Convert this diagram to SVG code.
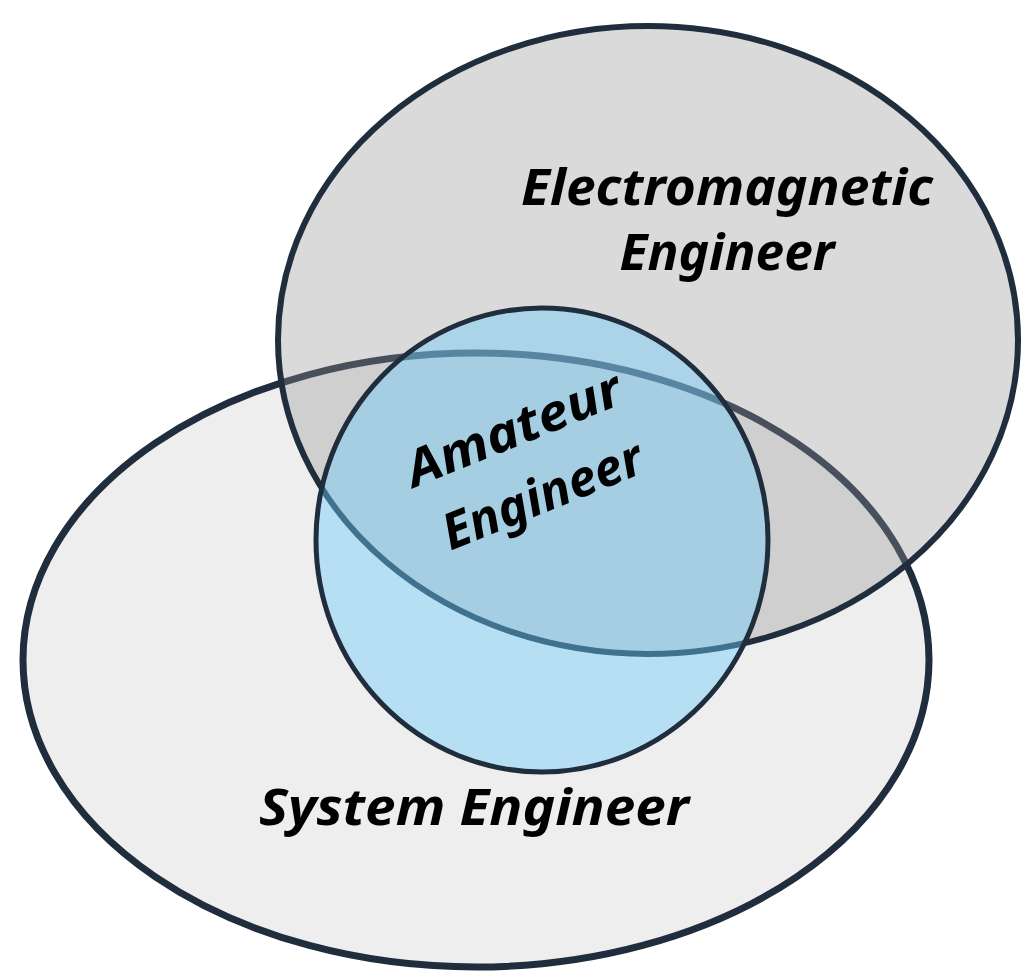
<svg xmlns="http://www.w3.org/2000/svg" width="1021" height="974" viewBox="0 0 1021 974">
<style>
.lbl{font-family:"Noto Sans","DejaVu Sans",sans-serif;font-weight:bold;font-style:italic;font-size:50px;fill:#000;text-anchor:middle}
.sys{fill:#eeeeee;stroke:#1f2d3d;stroke-width:7}
.em{fill:rgba(150,150,150,0.35);stroke:#1f2d3d;stroke-width:6}
.am{fill:rgba(110,205,252,0.43);stroke:#1f2d3d;stroke-width:5}
</style>
<rect width="1021" height="974" fill="#ffffff"/>
<g id="system-engineer">
<ellipse class="sys" cx="476" cy="660" rx="453" ry="307"/>
</g>
<g id="electromagnetic-engineer">
<ellipse class="em" cx="648" cy="340" rx="370" ry="314"/>
</g>
<g id="amateur-engineer">
<ellipse class="am" cx="542" cy="540" rx="226" ry="232"/>
</g>
<g id="labels">
<text class="lbl" x="727" y="205" textLength="412" lengthAdjust="spacingAndGlyphs">Electromagnetic</text>
<text class="lbl" x="727" y="270" textLength="215" lengthAdjust="spacingAndGlyphs">Engineer</text>
<text class="lbl" x="474" y="825" textLength="430" lengthAdjust="spacingAndGlyphs">System Engineer</text>
<g transform="translate(520,445) rotate(-22)">
<text class="lbl" x="0" y="0" font-size="54" textLength="228" lengthAdjust="spacingAndGlyphs">Amateur</text>
<text class="lbl" x="2" y="72" font-size="54" textLength="212" lengthAdjust="spacingAndGlyphs">Engineer</text>
</g>
</g>
<g id="connectors"/>
</svg>
